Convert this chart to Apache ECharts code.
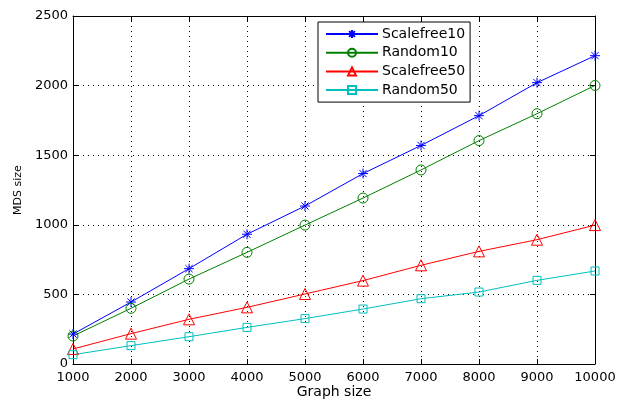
<!DOCTYPE html>
<html>
<head>
<meta charset="utf-8">
<script src="https://cdn.jsdelivr.net/npm/echarts@6/dist/echarts.min.js"></script>
<style>html,body{margin:0;padding:0;background:#fff}#c{width:618px;height:400px}</style>
</head>
<body>
<div id="c"></div>
<script>
const graphSizes = [1000, 2000, 3000, 4000, 5000, 6000, 7000, 8000, 9000, 10000];
const scalefree10 = [215, 445, 685, 932, 1135, 1368, 1570, 1784, 2021, 2215];
const random10 = [201, 400, 610, 802, 998, 1192, 1394, 1605, 1798, 2001];
const scalefree50 = [108, 218, 321, 407, 503, 599, 709, 809, 893, 998];
const random50 = [67, 132, 196, 263, 326, 395, 469, 517, 601, 668];
const seriesNames = ['Scalefree10', 'Random10', 'Scalefree50', 'Random50'];

const font = 'DejaVu Sans, Verdana, sans-serif';
const asterisk = 'path://M0,-5L0,5M-5,0L5,0M-3.6,-3.6L3.6,3.6M-3.6,3.6L3.6,-3.6';

function pairs(vals) { return graphSizes.map((x, i) => [x, vals[i]]); }

function mk(name, vals, color, symbol, size) {
  return {
    name: name, type: 'line', data: pairs(vals), symbol: symbol, symbolSize: size,
    showAllSymbol: true,
    lineStyle: { color: color, width: 1 },
    itemStyle: { color: 'rgba(0,0,0,0)', borderColor: color, borderWidth: 1 },
    emphasis: { disabled: true },
    animation: false
  };
}

const plain = v => String(v);
const chart = echarts.init(document.getElementById('c'));
const gridLine = { show: true, lineStyle: { color: '#000', width: 1, type: [1, 4] } };
chart.setOption({
  animation: false,
  backgroundColor: '#fff',
  textStyle: { fontFamily: font },
  grid: { left: 73, right: 23, top: 16, bottom: 36, containLabel: false, outerBoundsMode: 'none' },
  legend: {
    orient: 'vertical', left: 318, top: 22,
    data: seriesNames,
    backgroundColor: '#fff', borderColor: '#000', borderWidth: 1,
    padding: [5, 5, 5, 7],
    itemWidth: 52, itemHeight: 10, itemGap: 4.7,
    textStyle: { fontSize: 14, color: '#000', fontFamily: font, padding: [0, 0, 0, -1] }
  },
  xAxis: [{
    type: 'value', min: 1000, max: 10000, interval: 1000,
    name: 'Graph size', nameLocation: 'middle', nameGap: 28, nameMoveOverlap: false,
    nameTextStyle: { fontSize: 14, color: '#000', fontFamily: font, verticalAlign: 'middle' },
    axisLine: { show: true, lineStyle: { color: '#000', width: 1 } },
    axisTick: { show: true, inside: true, length: 5, lineStyle: { color: '#000' } },
    axisLabel: { fontSize: 13, color: '#000', margin: 7, fontFamily: font, formatter: plain },
    splitLine: gridLine
  }, {
    type: 'value', position: 'top', min: 1000, max: 10000, interval: 1000,
    axisLine: { show: true, onZero: false, lineStyle: { color: '#000', width: 1 } },
    axisTick: { show: true, inside: true, length: 5, lineStyle: { color: '#000' } },
    axisLabel: { show: false }, splitLine: { show: false }
  }],
  yAxis: [{
    type: 'value', min: 0, max: 2500, interval: 500,
    name: 'MDS size', nameLocation: 'middle', nameGap: 48, nameRotate: 90,
    nameTextStyle: { fontSize: 11, color: '#000', fontFamily: font },
    axisLine: { show: true, lineStyle: { color: '#000', width: 1 } },
    axisTick: { show: true, inside: true, length: 5, lineStyle: { color: '#000' } },
    axisLabel: { fontSize: 13, color: '#000', margin: 5, fontFamily: font, formatter: plain },
    splitLine: gridLine
  }, {
    type: 'value', position: 'right', min: 0, max: 2500, interval: 500,
    axisLine: { show: true, onZero: false, lineStyle: { color: '#000', width: 1 } },
    axisTick: { show: true, inside: true, length: 5, lineStyle: { color: '#000' } },
    axisLabel: { show: false }, splitLine: { show: false }
  }],
  series: [
    mk(seriesNames[0], scalefree10, '#0000ff', asterisk, 10),
    mk(seriesNames[1], random10, '#008000', 'circle', 10),
    mk(seriesNames[2], scalefree50, '#ff0000', 'triangle', 11),
    mk(seriesNames[3], random50, '#00bfbf', 'rect', 8)
  ]
});
</script>
</body>
</html>
